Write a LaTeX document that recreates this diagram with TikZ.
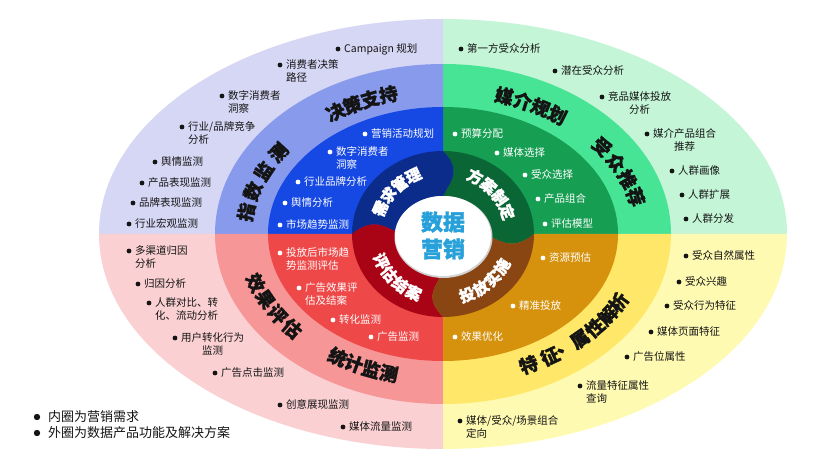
\documentclass[tikz,border=0pt]{standalone}
\usepackage{fontspec}
\setmainfont{Noto Sans CJK SC}
\newfontfamily\heavyfont{Noto Sans CJK SC}[BoldFeatures={FakeBold=1.3}]
\usetikzlibrary{calc}
\definecolor{oTL}{RGB}{214,214,245}
\definecolor{oTR}{RGB}{196,245,215}
\definecolor{oBR}{RGB}{255,250,178}
\definecolor{oBL}{RGB}{250,208,210}
\definecolor{mTL}{RGB}{136,154,236}
\definecolor{mTR}{RGB}{72,228,150}
\definecolor{mBR}{RGB}{255,232,105}
\definecolor{mBL}{RGB}{247,150,150}
\definecolor{iTL}{RGB}{22,72,228}
\definecolor{iTR}{RGB}{22,158,82}
\definecolor{iBR}{RGB}{214,146,12}
\definecolor{iBL}{RGB}{238,72,72}
\definecolor{rTL}{RGB}{12,44,140}
\definecolor{rTR}{RGB}{10,102,52}
\definecolor{rBR}{RGB}{138,70,18}
\definecolor{rBL}{RGB}{168,4,22}
\definecolor{cent}{RGB}{40,160,218}
\definecolor{ink}{RGB}{20,20,20}
\tikzset{
  itm/.style={anchor=base west, inner sep=0pt, font=\fontsize{10.5}{12.5}\selectfont},
  midlbl/.style={inner sep=0pt, font=\heavyfont\fontsize{18.5}{18.5}\selectfont\bfseries, text=ink},
  innlbl/.style={inner sep=0pt, font=\heavyfont\fontsize{15.5}{15.5}\selectfont\bfseries, text=white},
  legend/.style={anchor=west, inner sep=0pt, font=\fontsize{13}{15}\selectfont, text=ink},
}
% bullet item: name, colour, x, y (image), column alignment, text
\newcommand\bul[6]{%
  \fill[#2] (#3,{457-#4}) circle[radius=2.4];
  \node[itm, text=#2] (#1) at ({#3+6},{457-#4-4}) {\begin{tabular}[t]{@{}#5@{}}#6\end{tabular}};
}
% curved label: name prefix, style, rx, ry, start angle, step, chars
\newcommand\arclabel[7]{%
  \foreach \ch [count=\i from 0] in {#7} {
    \pgfmathsetmacro\ang{#5+\i*(#6)}
    \pgfmathsetmacro\sg{ifthenelse(#6<0,-1,1)}
    \pgfmathsetmacro\rot{atan2(#4*cos(\ang)*\sg, #3*sin(\ang)*\sg*(-1))}
    \node[#2, rotate=\rot] (#1\i) at ({443+#3*cos(\ang)},{223+#4*sin(\ang)}) {\ch};
  }
}
% curved label with explicit angles: name prefix, style, rx, ry, sign, angle/char list
\newcommand\arclabelat[6]{%
  \foreach \ang/\ch [count=\i from 0] in {#6} {
    \pgfmathsetmacro\rot{atan2(#4*cos(\ang)*(#5), #3*sin(\ang)*(#5)*(-1))}
    \node[#2, rotate=\rot] (#1\i) at ({443+#3*cos(\ang)},{223+#4*sin(\ang)}) {\ch};
  }
}
% quadrant sector of an ellipse: colour, rx, ry, start angle
\newcommand\quadfill[4]{%
  \fill[#1] (443,223) -- +(#4:#2 and #3) arc[start angle=#4, end angle={#4+90}, x radius=#2, y radius=#3] -- cycle;
}
% puzzle sector of inner ring: colour, start angle
\newcommand\puzzle[2]{%
  \fill[#1] (443,223)
    -- plot[domain=0.45:1.0, samples=18] ({443+91*\x*cos(#2-9*sin(327*(\x-0.45)))}, {223+83*\x*sin(#2-9*sin(327*(\x-0.45)))})
    -- ({443+140*cos(#2)}, {223+140*sin(#2)})
    -- ({443+220*cos(#2+45)}, {223+220*sin(#2+45)})
    -- ({443+140*cos(#2+90)}, {223+140*sin(#2+90)})
    -- plot[domain=1.0:0.45, samples=18] ({443+91*\x*cos(#2+90-9*sin(327*(\x-0.45)))}, {223+83*\x*sin(#2+90-9*sin(327*(\x-0.45)))})
    -- cycle;
}
\begin{document}
\begin{tikzpicture}[x=1pt,y=1pt]
\useasboundingbox (0,0) rectangle (821,457);
\fill[white] (0,0) rectangle (821,457);
% outer ring
\quadfill{oTR}{344}{215}{0}
\quadfill{oTL}{344}{215}{90}
\quadfill{oBL}{344}{215}{180}
\quadfill{oBR}{344}{215}{270}
% middle ring
\quadfill{mTR}{228}{170}{0}
\quadfill{mTL}{228}{170}{90}
\quadfill{mBL}{228}{170}{180}
\quadfill{mBR}{228}{170}{270}
% inner bright ring
\quadfill{iTR}{175}{127}{0}
\quadfill{iTL}{175}{127}{90}
\quadfill{iBL}{175}{127}{180}
\quadfill{iBR}{175}{127}{270}
% puzzle ring
\begin{scope}
  \clip (443,223) ellipse [x radius=91, y radius=83];
  \puzzle{rTR}{0}
  \puzzle{rTL}{90}
  \puzzle{rBL}{180}
  \puzzle{rBR}{270}
\end{scope}
% centre
\fill[black!18] (443.5,220) ellipse [x radius=49, y radius=41];
\fill[white] (443,221) ellipse [x radius=48, y radius=40];
\node[inner sep=0pt, align=center, text=cent, font=\heavyfont\fontsize{22}{27}\selectfont\bfseries] (centre) at (443,221.5) {数据\\营销};

% inner ring labels
\arclabel{xq}{innlbl}{68}{65}{157}{-13.7}{需,求,管,理}
\arclabel{fa}{innlbl}{68}{65}{61.8}{-14}{方,案,制,定}
\arclabel{tf}{innlbl}{68}{65}{290.7}{13.1}{投,放,实,施}
\arclabel{pg}{innlbl}{68}{65}{204.6}{13.3}{评,估,结,案}

% middle ring labels
\arclabel{jc}{midlbl}{199}{145}{122.7}{-5.6}{决,策,支,持}
\arclabel{zs}{midlbl}{199}{145}{171.3}{-8.5}{指,数,监,测}
\arclabel{mj}{midlbl}{199}{145}{72.1}{-5.7}{媒,介,规,划}
\arclabel{sz}{midlbl}{199}{145}{37}{-7.4}{受,众,推,荐}
\arclabelat{tz}{midlbl}{199}{145}{1}{295.5/特,302.5/征,308/、,313.5/属,319.7/性,325.8/解,331.9/析}
\arclabel{tj}{midlbl}{199}{145}{238}{5.4}{统,计,监,测}
\arclabel{xg}{midlbl}{199}{145}{199.7}{7}{效,果,评,估}

% outer items, top left
\bul{a1}{ink}{338}{49}{l}{Campaign 规划}
\bul{a2}{ink}{280}{65}{l}{消费者决策\\路径}
\bul{a3}{ink}{222}{96}{l}{数字消费者\\洞察}
\bul{a4}{ink}{182}{127}{l}{行业/品牌竞争\\分析}
\bul{a5}{ink}{155}{162}{l}{舆情监测}
\bul{a6}{ink}{142}{183}{l}{产品表现监测}
\bul{a7}{ink}{133}{203}{l}{品牌表现监测}
\bul{a8}{ink}{129}{224}{l}{行业宏观监测}
% outer items, top right
\bul{b1}{ink}{461}{49}{l}{第一方受众分析}
\bul{b2}{ink}{555}{71}{l}{潜在受众分析}
\bul{b3}{ink}{602}{97}{c}{竞品媒体投放\\分析}
\bul{b4}{ink}{647}{134}{c}{媒介产品组合\\推荐}
\bul{b5}{ink}{672}{171}{l}{人群画像}
\bul{b6}{ink}{682}{195}{l}{人群扩展}
\bul{b7}{ink}{686}{219}{l}{人群分发}
% outer items, bottom right
\bul{c1}{ink}{686}{256}{l}{受众自然属性}
\bul{c2}{ink}{679}{282}{l}{受众兴趣}
\bul{c3}{ink}{667}{306}{l}{受众行为特征}
\bul{c4}{ink}{651}{332}{l}{媒体页面特征}
\bul{c5}{ink}{627}{357}{l}{广告位属性}
\bul{c6}{ink}{580}{386}{l}{流量特征属性\\查询}
\bul{c7}{ink}{460}{421}{l}{媒体/受众/场景组合\\定向}
% outer items, bottom left
\bul{d1}{ink}{129}{251}{l}{多渠道归因\\分析}
\bul{d2}{ink}{138}{284}{l}{归因分析}
\bul{d3}{ink}{149}{303}{l}{人群对比、转\\化、流动分析}
\bul{d4}{ink}{175}{338}{c}{用户转化行为\\监测}
\bul{d5}{ink}{215}{373}{l}{广告点击监测}
\bul{d6}{ink}{280}{405}{l}{创意展现监测}
\bul{d7}{ink}{343}{427}{l}{媒体流量监测}

% inner items
\bul{e1}{white}{365}{134}{l}{营销活动规划}
\bul{e2}{white}{330}{152}{l}{数字消费者\\洞察}
\bul{e3}{white}{298}{182}{l}{行业品牌分析}
\bul{e4}{white}{285}{203}{l}{舆情分析}
\bul{e5}{white}{280}{225}{l}{市场趋势监测}
\bul{f1}{white}{455}{134}{l}{预算分配}
\bul{f2}{white}{497}{153}{l}{媒体选择}
\bul{f3}{white}{525}{175}{l}{受众选择}
\bul{f4}{white}{538}{199}{l}{产品组合}
\bul{f5}{white}{545}{224}{l}{评估模型}
\bul{g1}{white}{543}{258}{l}{资源预估}
\bul{g2}{white}{513}{306}{l}{精准投放}
\bul{g3}{white}{455}{337}{l}{效果优化}
\bul{h1}{white}{280}{253}{l}{投放后市场趋\\势监测评估}
\bul{h2}{white}{299}{288}{l}{广告效果评\\估及结案}
\bul{h3}{white}{333}{320}{l}{转化监测}
\bul{h4}{white}{371}{337}{l}{广告监测}

% legend
\fill[ink] (37,40) circle[radius=3.2];
\node[legend] (leg1) at (48,40) {内圈为营销需求};
\fill[ink] (37,24) circle[radius=3.2];
\node[legend] (leg2) at (48,24) {外圈为数据产品功能及解决方案};
\end{tikzpicture}
\end{document}
